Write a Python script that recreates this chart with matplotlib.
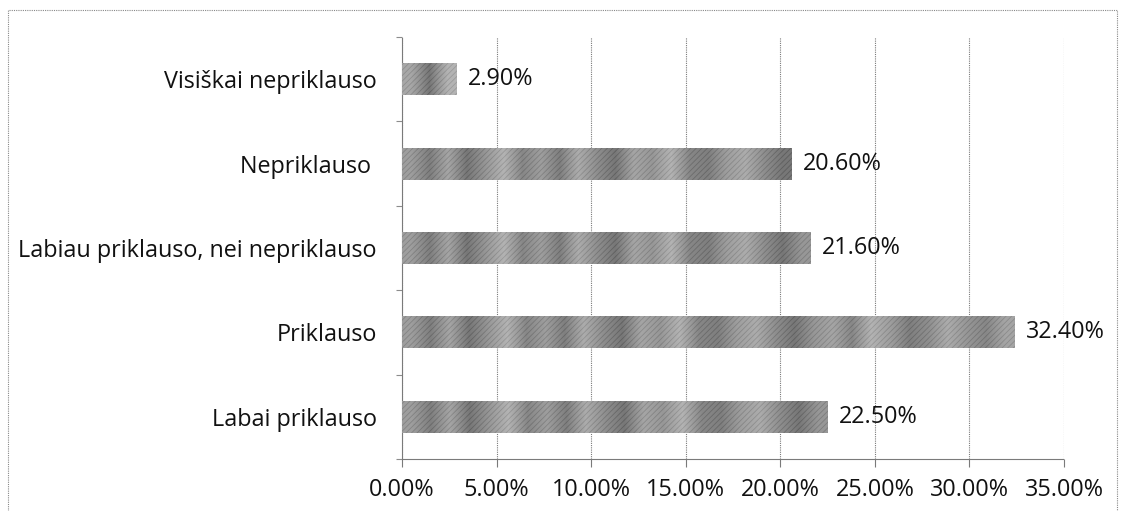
import matplotlib
matplotlib.use("Agg")
import matplotlib.pyplot as plt
import numpy as np
from matplotlib.patches import Rectangle
from matplotlib.ticker import MultipleLocator, FixedLocator, FuncFormatter

# Survey answers, bottom to top
categories = ["Labai priklauso", "Priklauso", "Labiau priklauso, nei nepriklauso",
              "Nepriklauso ", "Visiškai nepriklauso"]
shares = [22.5, 32.4, 21.6, 20.6, 2.9]
value_labels = ["22.50%", "32.40%", "21.60%", "20.60%", "2.90%"]

plt.rcParams["font.family"] = ["Open Sans", "DejaVu Sans"]
plt.rcParams["hatch.linewidth"] = 0.6
FS = 16.8

fig = plt.figure(figsize=(11.21, 5.11), dpi=100)
ax = fig.add_axes([0.3586, 0.1018, 0.9492 - 0.3586, 0.9276 - 0.1018])

ypos = np.arange(len(categories))
bars = ax.barh(ypos, shares, height=0.38, color="#a4a4a4", edgecolor="#707070",
               linewidth=0, hatch="//////", zorder=3)

# Banded grain over each bar
band_cmap = matplotlib.colors.LinearSegmentedColormap.from_list(
    "grain", ["#4a4a4a", "#8a8a8a", "#c4c4c4"])
band_profile = np.array([0.6, 0.2, 0.7, 0.1, 0.5, 0.9, 0.3, 0.6, 0.2, 0.8,
                         0.4, 0.1, 0.7, 0.5, 0.9, 0.3, 0.2, 0.6, 0.8, 0.4,
                         0.1, 0.5, 0.7, 0.3, 0.9, 0.6, 0.2, 0.4, 0.8, 0.5,
                         0.3, 0.7, 0.1, 0.6, 0.9, 0.4])
for b in bars:
    x0, y0 = b.get_x(), b.get_y()
    w, h = b.get_width(), b.get_height()
    n = max(2, int(round(w)))
    prof = np.resize(band_profile, n)[None, :]
    im = ax.imshow(prof, cmap=band_cmap, aspect="auto", extent=(x0, x0 + w, y0, y0 + h),
                   interpolation="bilinear", alpha=0.5, zorder=4)
    im.set_clip_path(b)

for y, v, lab in zip(ypos, shares, value_labels):
    ax.text(v + 0.6, y, lab, va="center", ha="left", fontsize=FS, color="#111111", zorder=5)

ax.set_xlim(0, 35)
ax.set_ylim(-0.5, len(categories) - 0.5)
ax.xaxis.set_major_locator(MultipleLocator(5))
ax.xaxis.set_major_formatter(FuncFormatter(lambda v, p: f"{v:.2f}%"))
ax.grid(axis="x", color="#7a7a7a", linewidth=0.8, linestyle=(0, (1, 1)), zorder=0)

ax.set_yticks(ypos)
ax.set_yticklabels(categories)
ax.yaxis.set_minor_locator(FixedLocator(np.arange(-0.5, len(categories), 1.0)))
ax.tick_params(axis="y", which="major", length=0, pad=18, labelsize=FS, labelcolor="#111111")
ax.tick_params(axis="y", which="minor", length=4, color="#8c8c8c", width=0.8)
ax.tick_params(axis="x", which="major", length=6, color="#7a7a7a", width=0.8,
               pad=8, labelsize=FS, labelcolor="#111111")

for s in ["top", "right"]:
    ax.spines[s].set_visible(False)
for s in ["left", "bottom"]:
    ax.spines[s].set_color("#7a7a7a")
    ax.spines[s].set_linewidth(0.8)
    ax.spines[s].set_linestyle((0, (1, 1)))

# Outer frame of the chart area
fig.patches.append(Rectangle((8 / 1121, -0.02), (1117 - 8) / 1121, 1.02 - 10 / 511,
                             transform=fig.transFigure, fill=False,
                             edgecolor="#888888", linewidth=0.8,
                             linestyle=(0, (1, 1))))

fig.savefig("out.png", dpi=100)
